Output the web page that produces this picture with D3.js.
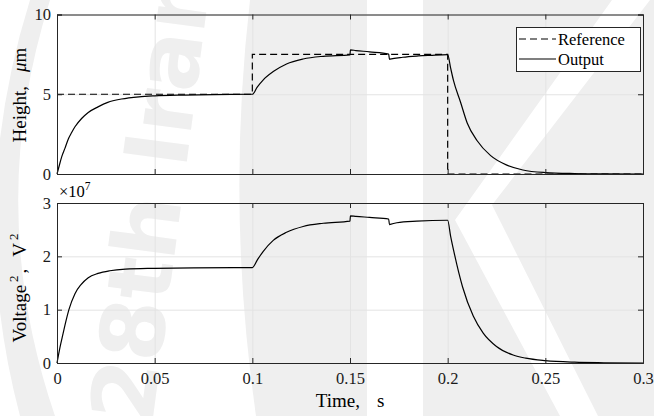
<!DOCTYPE html>
<html>
<head>
<meta charset="utf-8">
<script src="https://cdn.jsdelivr.net/npm/d3@7"></script>
<style>
  body { margin: 0; background: #fff; }
  svg { display: block; }
  text { font-family: "Liberation Serif", "Times New Roman", serif; }
</style>
</head>
<body>
<svg width="654" height="416"></svg>
<script>
// x axis
var xTicks = [0, 0.05, 0.1, 0.15, 0.2, 0.25, 0.3];
var xTickLabels = ["0", "0.05", "0.1", "0.15", "0.2", "0.25", "0.3"];

// top panel: height (um)
var heightTicks = [0, 5, 10];
var refTime = [0, 0.1, 0.1, 0.2, 0.2, 0.3];
var refHeight = [5, 5, 7.5, 7.5, 0, 0];
var outTime = [0, 0.0012, 0.0024, 0.0041, 0.0058, 0.0075, 0.0092, 0.0126, 0.016, 0.021, 0.026, 0.033, 0.042, 0.05, 0.065, 0.08, 0.1,
  0.1025, 0.1055, 0.1107, 0.1175, 0.126, 0.1363, 0.15, 0.1502, 0.153, 0.16, 0.1698, 0.1702, 0.1705, 0.177, 0.185, 0.191, 0.2,
  0.2015, 0.203, 0.2066, 0.21, 0.215, 0.222, 0.23, 0.2385, 0.25, 0.265, 0.28, 0.3];
var outHeight = [0, 0.55, 1.07, 1.62, 2.2, 2.6, 2.96, 3.48, 3.86, 4.21, 4.49, 4.70, 4.84, 4.9, 4.95, 4.98, 5.0,
  5.45, 5.89, 6.42, 6.9, 7.21, 7.38, 7.47, 7.78, 7.74, 7.66, 7.52, 7.19, 7.2, 7.32, 7.40, 7.44, 7.49,
  6.65, 5.85, 4.5, 3.2, 2.1, 1.15, 0.57, 0.25, 0.09, 0.03, 0.01, 0.0];

// bottom panel: voltage^2 (x 1e7 V^2)
var voltTicks = [0, 1, 2, 3];
var voltTime = [0, 0.0015, 0.0031, 0.0046, 0.0061, 0.0092, 0.0123, 0.016, 0.021, 0.027, 0.035, 0.05, 0.07, 0.1,
  0.1025, 0.1055, 0.1107, 0.1175, 0.126, 0.1363, 0.15, 0.1502, 0.153, 0.16, 0.1698, 0.1702, 0.1706, 0.174, 0.1842, 0.2,
  0.2015, 0.2033, 0.2076, 0.2131, 0.2182, 0.225, 0.2335, 0.24, 0.25, 0.265, 0.28, 0.3];
var voltSq = [0, 0.29, 0.55, 0.79, 1.0, 1.3, 1.47, 1.6, 1.68, 1.73, 1.76, 1.775, 1.785, 1.79,
  1.93, 2.09, 2.30, 2.45, 2.56, 2.62, 2.66, 2.76, 2.75, 2.73, 2.70, 2.595, 2.6, 2.63, 2.66, 2.677,
  2.38, 2.07, 1.43, 0.88, 0.56, 0.31, 0.15, 0.09, 0.044, 0.015, 0.005, 0];

var svg = d3.select("svg");
var left = 57, right = 643;
var axisColor = "#262626", gridColor = "#e3e3e3", markColor = "#efefef";

// faint logo watermark behind the axes
var wm = svg.append("g").attr("fill", markColor);
wm.append("path").attr("d", "M30,0 L50,0 Q-16,208 55,416 L20,416 Q-35,208 30,0 Z");
wm.append("path").attr("d", "M250,0 L367,0 L367,416 L256,416 Q226,208 250,0 Z");
wm.append("path").attr("d", "M423,0 L654,0 L654,416 L423,416 Z");
wm.append("path").attr("fill", "#fff").attr("d", "M612,0 L650,0 L492,205 L598,416 L560,416 L455,220 Z");
wm.append("text").attr("transform", "translate(152,425) rotate(-82.5)")
  .style("font-family", "DejaVu Sans").attr("font-weight", "bold").attr("font-size", 88)
  .attr("fill", markColor).text("28th Irania");

var x = d3.scaleLinear().domain([0, 0.3]).range([left, right]);
var yTop = d3.scaleLinear().domain([0, 10]).range([174, 14.5]);
var yBot = d3.scaleLinear().domain([0, 3]).range([363, 203]);

function panel(y, yTicks) {
  var g = svg.append("g");
  var y0 = y.range()[0], y1 = y.range()[1];
  g.append("g").attr("transform", "translate(0," + y0 + ")")
    .call(d3.axisBottom(x).tickValues(xTicks).tickSize(-(y0 - y1)).tickFormat(""))
    .call(function(s) { s.select(".domain").remove(); s.selectAll("line").attr("stroke", gridColor); });
  g.append("g").attr("transform", "translate(" + left + ",0)")
    .call(d3.axisLeft(y).tickValues(yTicks).tickSize(-(right - left)).tickFormat(""))
    .call(function(s) { s.select(".domain").remove(); s.selectAll("line").attr("stroke", gridColor); });
  return g;
}

function frame(g, y, yTicks, showX) {
  var y0 = y.range()[0], y1 = y.range()[1];
  var ax = [
    g.append("g").attr("transform", "translate(0," + y0 + ")")
      .call(d3.axisBottom(x).tickValues(xTicks).tickSize(-5).tickPadding(9)
        .tickFormat(function(d, i) { return showX ? xTickLabels[i] : ""; })),
    g.append("g").attr("transform", "translate(0," + y1 + ")")
      .call(d3.axisTop(x).tickValues(xTicks).tickSize(-5).tickFormat("")),
    g.append("g").attr("transform", "translate(" + left + ",0)")
      .call(d3.axisLeft(y).tickValues(yTicks).tickSize(-5).tickPadding(6).tickFormat(d3.format("d"))),
    g.append("g").attr("transform", "translate(" + right + ",0)")
      .call(d3.axisRight(y).tickValues(yTicks).tickSize(-5).tickFormat(""))
  ];
  ax.forEach(function(a) {
    a.attr("font-family", "Liberation Serif").attr("font-size", 16.5);
    a.select(".domain").attr("stroke", axisColor);
    a.selectAll("line").attr("stroke", axisColor);
    a.selectAll("text").attr("fill", "#1a1a1a").style("font-family", "Liberation Serif");
  });
}

var line = function(xs, ys, yScale, curve) {
  return d3.line().curve(curve)
    .x(function(d) { return x(xs[d]); })
    .y(function(d) { return yScale(ys[d]); })(d3.range(xs.length));
};

// top panel
var gTop = panel(yTop, heightTicks);
gTop.append("path").attr("d", line(refTime, refHeight, yTop, d3.curveLinear))
  .attr("fill", "none").attr("stroke", "#000").attr("stroke-width", 1.2).attr("stroke-dasharray", "7,4");
gTop.append("path").attr("d", line(outTime, outHeight, yTop, d3.curveMonotoneX))
  .attr("fill", "none").attr("stroke", "#000").attr("stroke-width", 1.2);
frame(gTop, yTop, heightTicks, false);

// bottom panel
var gBot = panel(yBot, voltTicks);
gBot.append("path").attr("d", line(voltTime, voltSq, yBot, d3.curveMonotoneX))
  .attr("fill", "none").attr("stroke", "#000").attr("stroke-width", 1.2);
frame(gBot, yBot, voltTicks, true);

// legend
var leg = svg.append("g").attr("transform", "translate(516,27)");
leg.append("rect").attr("x", 0.5).attr("y", 0.5).attr("width", 124).attr("height", 44)
  .attr("fill", "#fff").attr("stroke", axisColor);
leg.append("line").attr("x1", 3).attr("x2", 40).attr("y1", 12).attr("y2", 12)
  .attr("stroke", "#000").attr("stroke-width", 1.2).attr("stroke-dasharray", "7,4");
leg.append("line").attr("x1", 3).attr("x2", 40).attr("y1", 32).attr("y2", 32)
  .attr("stroke", "#000").attr("stroke-width", 1.2);
leg.append("text").attr("x", 42).attr("y", 17.5).attr("font-size", 16.5).text("Reference");
leg.append("text").attr("x", 42).attr("y", 37.5).attr("font-size", 16.5).text("Output");

// axis labels
var xl = svg.append("text").attr("x", 350).attr("y", 407).attr("text-anchor", "middle").attr("font-size", 19);
xl.append("tspan").text("Time,");
xl.append("tspan").attr("dx", 17).text("s");

var hl = svg.append("text").attr("transform", "translate(26,95) rotate(-90)")
  .attr("text-anchor", "middle").attr("font-size", 19);
hl.append("tspan").text("Height,");
hl.append("tspan").attr("dx", 14).attr("font-style", "italic").text("\u03bc");
hl.append("tspan").text("m");

var vl = svg.append("text").attr("transform", "translate(26,288) rotate(-90)")
  .attr("text-anchor", "middle").attr("font-size", 19);
vl.append("tspan").text("Voltage");
vl.append("tspan").attr("dx", 3).attr("dy", -8).attr("font-size", 13).text("2");
vl.append("tspan").attr("dx", 2).attr("dy", 8).text(",");
vl.append("tspan").attr("dx", 12).text("V");
vl.append("tspan").attr("dx", 3).attr("dy", -8).attr("font-size", 13).text("2");

// exponent
var ex = svg.append("text").attr("x", 59).attr("y", 197).attr("font-size", 16.5);
ex.append("tspan").text("\u00d710");
ex.append("tspan").attr("dy", -7).attr("font-size", 11.5).text("7");
</script>
</body>
</html>
